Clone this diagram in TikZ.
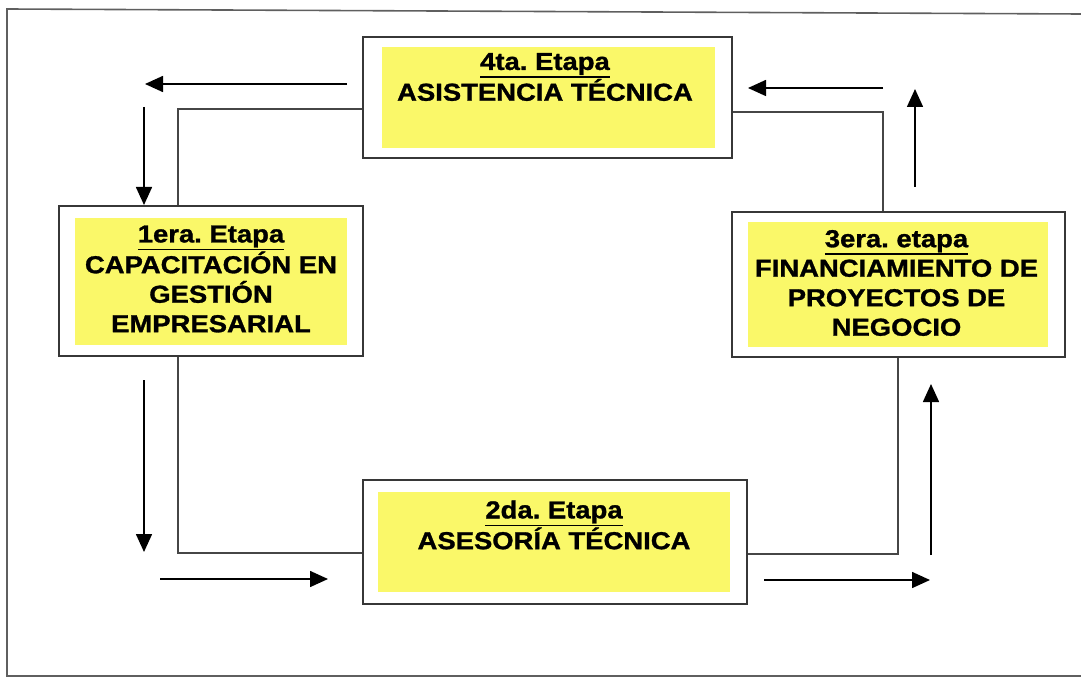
\documentclass[tikz,border=0pt]{standalone}
\usepackage{fontspec}
\setmainfont{Liberation Sans}
\newfontfamily\boxfont[FakeStretch=1.12,FakeBold=1.2]{Liberation Sans Bold}
\usetikzlibrary{arrows.meta}
\frenchspacing
\definecolor{boxyellow}{RGB}{250,248,105}
\definecolor{edgegray}{RGB}{55,55,55}
\definecolor{linegray}{RGB}{70,70,70}
\newcommand{\ulinebox}[1]{\leavevmode\vtop{\hbox{#1}\kern1.2pt\hrule height 1.8pt}}
\tikzset{
  outerbox/.style={draw=edgegray, line width=2pt, fill=white, inner sep=0pt},
  yellowbox/.style={fill=boxyellow, draw=none, inner sep=0pt},
  boxtext/.style={align=center, inner sep=0pt, text=black},
  conn/.style={draw=linegray, line width=2pt},
  flow/.style={draw=black, line width=1.6pt, -{Triangle[length=18pt,width=16pt]}},
  frameline/.style={draw=edgegray!80, line width=1.6pt}
}
\begin{document}
\begin{tikzpicture}[x=1pt,y=-1pt]
\useasboundingbox (0,0) rectangle (1081,679);
% outer frame
\coordinate (f1) at (1081,14);
\coordinate (f2) at (7,9);
\coordinate (f3) at (7,676);
\coordinate (f4) at (1081,676);
\draw[frameline] (f1) -- (f2) -- (f3) -- (f4);

% boxes
\node[outerbox, minimum width=304pt, minimum height=150pt] (b1) at (211,281) {};
\node[yellowbox, minimum width=272pt, minimum height=127pt] (y1) at (211,281.5) {};
\node[boxtext, font=\boxfont\fontsize{24.5}{29.5}\selectfont] (t1) at (211,279)
  {\ulinebox{1era. Etapa}\\CAPACITACIÓN EN\\GESTIÓN\\EMPRESARIAL};

\node[outerbox, minimum width=384pt, minimum height=124pt] (b2) at (555,542) {};
\node[yellowbox, minimum width=352pt, minimum height=100pt] (y2) at (554,542) {};
\node[boxtext, font=\boxfont\fontsize{24.5}{29}\selectfont] (t2) at (554,525)
  {\ulinebox{2da. Etapa}\\ASESORÍA TÉCNICA};

\node[outerbox, minimum width=333pt, minimum height=145pt] (b3) at (898.5,284.5) {};
\node[yellowbox, minimum width=300pt, minimum height=125pt] (y3) at (898,284.5) {};
\node[boxtext, font=\boxfont\fontsize{24.5}{29.5}\selectfont] (t3) at (896.5,283)
  {\ulinebox{3era. etapa}\\FINANCIAMIENTO DE\\PROYECTOS DE\\NEGOCIO};

\node[outerbox, minimum width=369pt, minimum height=121pt] (b4) at (547.5,97.5) {};
\node[yellowbox, minimum width=333pt, minimum height=101pt] (y4) at (548.5,97.5) {};
\node[boxtext, font=\boxfont\fontsize{24.5}{23}\selectfont] (t4) at (545,77)
  {\ulinebox{4ta. Etapa}\\ASISTENCIA TÉCNICA};

% loop connectors
\coordinate (k1) at (178,109);
\draw[conn] (k1 -| b4.west) -- (k1) -- (k1 |- b1.north);
\coordinate (k2) at (883,112);
\draw[conn] (k2 -| b4.east) -- (k2) -- (k2 |- b3.north);
\coordinate (k3) at (178,553);
\draw[conn] (k3 |- b1.south) -- (k3) -- (k3 -| b2.west);
\coordinate (k4) at (898,554);
\draw[conn] (k4 -| b2.east) -- (k4) -- (k4 |- b3.south);

% flow arrows
\coordinate (a1s) at (347,84);  \coordinate (a1e) at (145,84);
\coordinate (a2s) at (144,107); \coordinate (a2e) at (144,205);
\coordinate (a3s) at (144,380); \coordinate (a3e) at (144,552);
\coordinate (a4s) at (160,579); \coordinate (a4e) at (328,579);
\coordinate (a5s) at (764,580); \coordinate (a5e) at (930,580);
\coordinate (a6s) at (931,555); \coordinate (a6e) at (931,384);
\coordinate (a7s) at (915,187); \coordinate (a7e) at (915,89);
\coordinate (a8s) at (883,88);  \coordinate (a8e) at (748,88);
\draw[flow] (a1s) -- (a1e);
\draw[flow] (a2s) -- (a2e);
\draw[flow] (a3s) -- (a3e);
\draw[flow] (a4s) -- (a4e);
\draw[flow] (a5s) -- (a5e);
\draw[flow] (a6s) -- (a6e);
\draw[flow] (a7s) -- (a7e);
\draw[flow] (a8s) -- (a8e);
\end{tikzpicture}
\end{document}
